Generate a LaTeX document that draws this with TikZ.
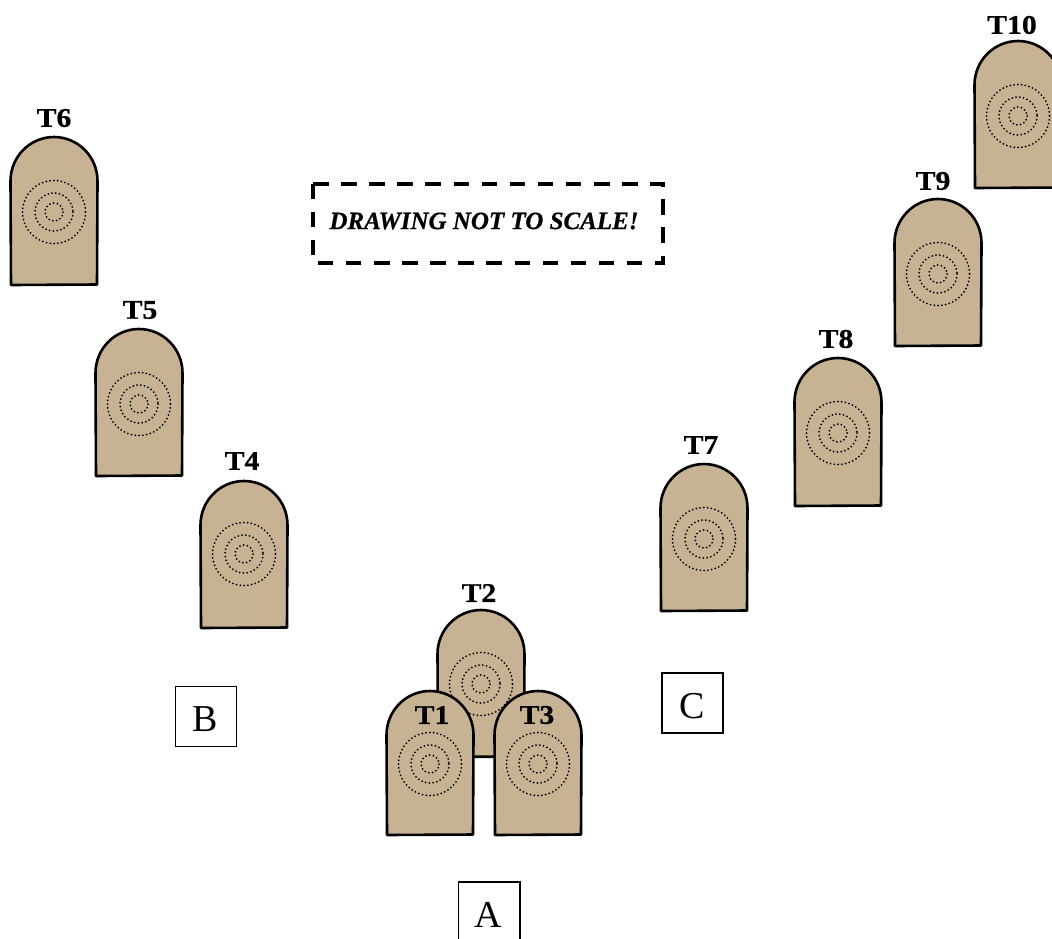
\documentclass[tikz,border=0pt]{standalone}
\usepackage{fontspec}
\setmainfont{Liberation Serif}
\newfontfamily\tagfont[FakeStretch=1.1,FakeBold=0.6]{Liberation Serif Bold}
\newfontfamily\notefont[FakeBold=0.5]{Liberation Serif Bold Italic}
\definecolor{tan}{RGB}{200,178,148}
\tikzset{
  board/.style={draw=black,fill=tan,line width=2.6pt,line join=round},
  ring/.style={draw=black,line width=2pt,line cap=round,dash pattern=on 0pt off 3.8pt},
  tag/.style={font=\fontsize{27}{27}\selectfont\tagfont,inner sep=0pt},
  zone/.style={draw=black,line width=1.3pt,fill=white},
  zonetext/.style={font=\fontsize{38}{38}\selectfont,inner sep=0pt},
}
\newcommand{\tgt}[4]{% cx, top, bottom, ring centre y
  \draw[board] (#1-43,#3) -- (#1-43.5,#2+44) arc[start angle=180,end angle=360,x radius=43.5,y radius=44] -- (#1+43,#3-0.5) -- cycle;
  \foreach \r in {31.5,19,9} \draw[ring] (#1,#4) circle[radius=\r];
}
\begin{document}
\begin{tikzpicture}[x=1pt,y=-1pt]
\useasboundingbox (0,0) rectangle (1052,938);
\clip (0,0) rectangle (1052,938);
\tgt{54}{137}{285}{212}
\tgt{139}{329}{476}{404}
\tgt{244}{481}{628}{554}
\tgt{481}{610}{757}{684}
\tgt{430}{691}{835}{764}
\tgt{538}{691}{835}{764}
\tgt{704}{464}{611}{539}
\tgt{838}{358}{506}{433}
\tgt{938}{199}{346}{274}
\tgt{1018}{41}{188}{116}
\node[tag] (t6) at (54,118) {T6};
\node[tag] (t5) at (140,310) {T5};
\node[tag] (t4) at (242,461) {T4};
\node[tag] (t2) at (479,593) {T2};
\node[tag] (t1) at (432,715) {T1};
\node[tag] (t3) at (537,715) {T3};
\node[tag] (t7) at (701,445) {T7};
\node[tag] (t8) at (836,339) {T8};
\node[tag] (t9) at (933,181) {T9};
\node[tag] (t10) at (1012,25) {T10};
\draw[zone] (175.5,686.5) rectangle (236.5,746.5);
\node[zonetext] (b) at (205,719) {B};
\draw[zone] (662,673) rectangle (723,733);
\node[zonetext] (c) at (692,706) {C};
\draw[zone] (458.5,882) rectangle (520,960);
\node[zonetext] (a) at (488,915) {A};
\draw[line width=3.5pt,dash pattern=on 15.5pt off 12.6pt] (313,184) -- (663,184) -- (663,263) -- (313,263) -- cycle;
\node[inner sep=0pt,font=\fontsize{25}{25}\selectfont\notefont] (note) at (484,221) {DRAWING NOT TO SCALE!};
\end{tikzpicture}
\end{document}
